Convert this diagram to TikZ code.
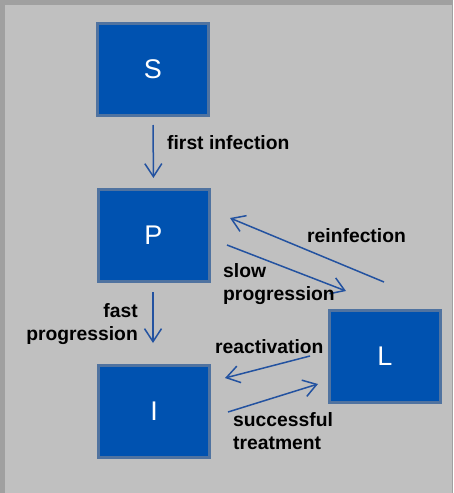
\documentclass[tikz,border=0pt]{standalone}
\usepackage{fontspec}
\setmainfont{Liberation Sans}
\usetikzlibrary{arrows.meta}
\definecolor{bg}{HTML}{C0C0C0}
\definecolor{edgegray}{HTML}{A0A0A0}
\definecolor{boxfill}{HTML}{0052B0}
\definecolor{boxline}{HTML}{5073A0}
\definecolor{arr}{HTML}{2352A0}
\begin{document}
\begin{tikzpicture}[x=1pt,y=-1pt,
  state/.style={draw=boxline,line width=3pt,fill=boxfill,minimum width=111pt,minimum height=92pt,inner sep=0pt,text=white,font=\fontsize{27}{30}\selectfont},
  flow/.style={draw=arr,line width=1.5pt,-{Straight Barb[length=13pt,width=17pt]}},
  lbl/.style={font=\bfseries\fontsize{19.3}{23}\selectfont,inner sep=0pt,text=black}]
\fill[bg] (0,0) rectangle (453,493);
\fill[edgegray] (0,0) rectangle (453,5);
\fill[edgegray] (0,0) rectangle (5,493);
\fill[edgegray] (452,0) rectangle (453,493);
\useasboundingbox (0,0) rectangle (453,493);
% states
\node[state] (S) at (153,69.5) {S};
\node[state] (P) at (153.5,235.5) {P};
\node[state] (I) at (154,411.5) {I};
\node[state] (L) at (385,356) {L};
% connector end points
\coordinate (slowA) at (227,245);
\coordinate (slowB) at (346,291);
\coordinate (reinfA) at (384,282);
\coordinate (reinfB) at (230,218);
\coordinate (reactA) at (310,356);
\coordinate (reactB) at (225,378);
\coordinate (treatA) at (228,412);
\coordinate (treatB) at (318,384);
% connectors
\draw[flow,shorten <=8pt,shorten >=10pt] (S.south) -- (P.north);
\draw[flow,shorten <=9pt,shorten >=21pt] (P.south -| 153,0) -- (I.north -| 153,0);
\draw[flow] (slowA) -- (slowB);
\draw[flow] (reinfA) -- (reinfB);
\draw[flow] (reactA) -- (reactB);
\draw[flow] (treatA) -- (treatB);
% labels
\node[lbl,anchor=base west] (t1) at (167,149) {first infection};
\node[lbl,anchor=base west] (t2) at (307,242) {reinfection};
\node[lbl,anchor=west,align=left] (t3) at (223,284.5) {slow\\progression};
\node[lbl,anchor=east,align=right] (t4) at (138,324.5) {fast\\progression};
\node[lbl,anchor=base west] (t5) at (215,353) {reactivation};
\node[lbl,anchor=west,align=left] (t6) at (233,431.5) {successful\\treatment};
\end{tikzpicture}
\end{document}
